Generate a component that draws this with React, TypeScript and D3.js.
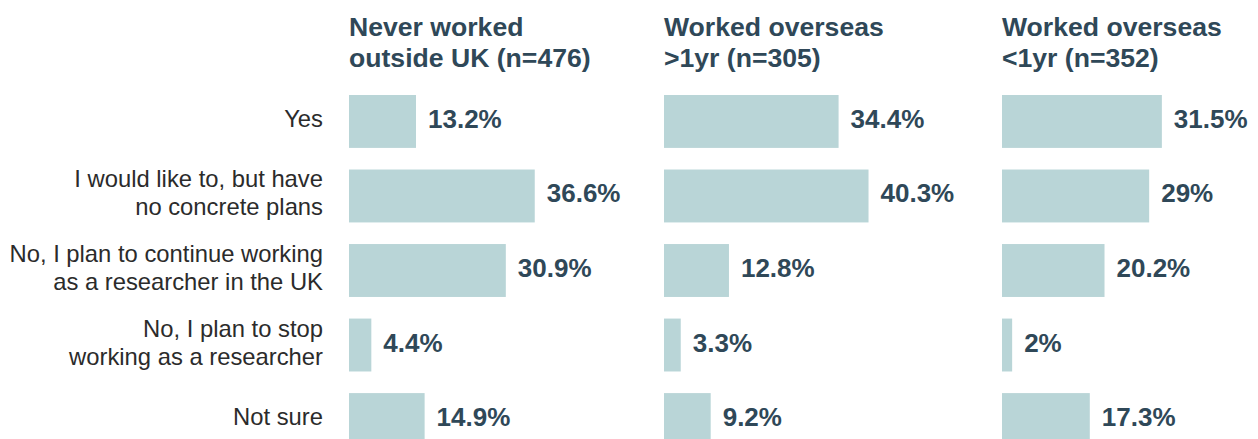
import React from "react";
import * as d3 from "d3";

const categories = [
  "Yes",
  "I would like to, but have|no concrete plans",
  "No, I plan to continue working|as a researcher in the UK",
  "No, I plan to stop|working as a researcher",
  "Not sure",
];

const panelTitles = [
  ["Never worked", "outside UK (n=476)"],
  ["Worked overseas", ">1yr (n=305)"],
  ["Worked overseas", "<1yr (n=352)"],
];

const neverWorked = [13.2, 36.6, 30.9, 4.4, 14.9];
const overseasMore1yr = [34.4, 40.3, 12.8, 3.3, 9.2];
const overseasLess1yr = [31.5, 29, 20.2, 2, 17.3];

const series = [neverWorked, overseasMore1yr, overseasLess1yr];

const WIDTH = 1258;
const HEIGHT = 439;
const panelX = [349, 664, 1002];
const labelRight = 323;

const BAR = "#b9d5d7";
const DARK = "#2f4858";
const LABEL = "#2b2b2b";
const FONT = "'Liberation Sans', Arial, Helvetica, sans-serif";

export default function App() {
  const y = d3
    .scaleBand<string>()
    .domain(categories)
    .range([95, 446])
    .paddingInner(0.29)
    .paddingOuter(0);

  const x = d3.scaleLinear().domain([0, 40]).range([0, 203]);

  const fmt = (v: number) => `${v}%`;

  return (
    <svg
      width={WIDTH}
      height={HEIGHT}
      style={{ position: "absolute", left: 0, top: 0, background: "#fff" }}
      fontFamily={FONT}
    >
      {/* category labels */}
      <g>
        {categories.map((c) => {
          const lines = c.split("|");
          const mid = (y(c) ?? 0) + y.bandwidth() / 2;
          const lh = 28;
          const first = mid + 5.5 - ((lines.length - 1) * lh) / 2;
          return (
            <text
              key={c}
              x={labelRight}
              textAnchor="end"
              fontSize={23.8}
              fill={LABEL}
            >
              {lines.map((l, i) => (
                <tspan key={i} x={labelRight} y={first + i * lh}>
                  {l}
                </tspan>
              ))}
            </text>
          );
        })}
      </g>

      {series.map((vals, p) => (
        <g key={p} transform={`translate(${panelX[p]},0)`}>
          <text fontSize={26.6} fontWeight="bold" fill={DARK}>
            {panelTitles[p].map((t, i) => (
              <tspan key={i} x={0} y={36 + i * 31}>
                {t}
              </tspan>
            ))}
          </text>
          {vals.map((v, i) => {
            const c = categories[i];
            const top = y(c) ?? 0;
            return (
              <g key={c}>
                <rect
                  x={x(0)}
                  y={top}
                  width={x(v) - x(0)}
                  height={y.bandwidth()}
                  fill={BAR}
                />
                <text
                  x={x(v) + 12}
                  y={top + y.bandwidth() / 2 + 6.5}
                  fontSize={26}
                  fontWeight="bold"
                  fill={DARK}
                >
                  {fmt(v)}
                </text>
              </g>
            );
          })}
        </g>
      ))}
    </svg>
  );
}
